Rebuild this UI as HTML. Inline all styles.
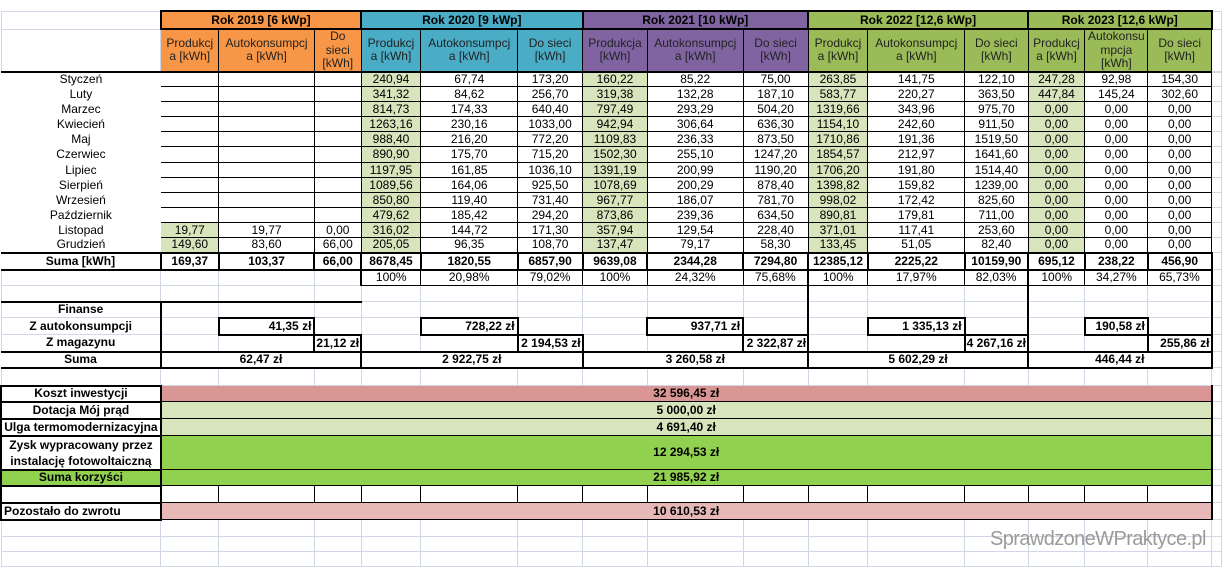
<!DOCTYPE html>
<html><head><meta charset="utf-8">
<style>
html,body{margin:0;padding:0;background:#fff;width:1222px;height:568px;overflow:hidden}
table{position:absolute;left:0;top:10px;border-collapse:collapse;table-layout:fixed;font-family:"Liberation Sans",Arial,sans-serif;font-size:12px;color:#000}
td{border:1px solid #d0d7e5;padding:0 2px;text-align:center;white-space:nowrap;overflow:hidden;line-height:13px}
td.n{border-color:transparent}
.b{border:1px solid #000}
.h{font-weight:bold;border:2px solid #000}
.o{background:#f79646}.bl{background:#4bacc6}.p{background:#8064a2}.g{background:#9bbb59}
.sub td{white-space:normal;color:#222;font-size:12px;line-height:13.5px}
.lg{background:#d8e4bc}
.bt td{border-top:2px solid #000}
.r{text-align:right}
.bold{font-weight:bold}
.mk{background:#da9694}.dt{background:#d8e4bc}.zy{background:#92d050}.po{background:#e6b8b7}
.lab{border:2px solid #000;font-weight:bold}
#wm{position:absolute;left:990px;top:528px;font-family:"Liberation Sans",Arial,sans-serif;font-size:20px;color:#9a9a9a;letter-spacing:-0.6px}
</style></head><body>
<table>
<colgroup>
<col style="width:160px"><col style="width:58px"><col style="width:96px"><col style="width:46px">
<col style="width:60px"><col style="width:97px"><col style="width:65px">
<col style="width:65px"><col style="width:96px"><col style="width:65px">
<col style="width:60px"><col style="width:97px"><col style="width:63px">
<col style="width:57px"><col style="width:63px"><col style="width:64px"><col style="width:10px">
</colgroup>
<tr style="height:18px"><td></td><td colspan="3" class="h o">Rok 2019 [6 kWp]</td><td colspan="3" class="h bl">Rok 2020 [9 kWp]</td><td colspan="3" class="h p">Rok 2021 [10 kWp]</td><td colspan="3" class="h g">Rok 2022 [12,6 kWp]</td><td colspan="3" class="h g">Rok 2023 [12,6 kWp]</td><td></td></tr>
<tr class="sub" style="height:41px"><td></td>
<td class="b o">Produkcj a [kWh]</td><td class="b o">Autokonsumpcj a [kWh]</td><td class="b o">Do sieci [kWh]</td>
<td class="b bl">Produkcj a [kWh]</td><td class="b bl">Autokonsumpcj a [kWh]</td><td class="b bl">Do sieci [kWh]</td>
<td class="b p">Produkcja [kWh]</td><td class="b p">Autokonsumpcj a [kWh]</td><td class="b p">Do sieci [kWh]</td>
<td class="b g">Produkcj a [kWh]</td><td class="b g">Autokonsumpcj a [kWh]</td><td class="b g">Do sieci [kWh]</td>
<td class="b g">Produkcj a [kWh]</td><td class="b g">Autokonsu mpcja [kWh]</td><td class="b g">Do sieci [kWh]</td><td></td></tr>
<tr class="bt" style="height:15px"><td class="n">Styczeń</td><td class="b"></td><td class="b"></td><td class="b"></td><td class="b lg">240,94</td><td class="b">67,74</td><td class="b">173,20</td><td class="b lg">160,22</td><td class="b">85,22</td><td class="b">75,00</td><td class="b lg">263,85</td><td class="b">141,75</td><td class="b">122,10</td><td class="b lg">247,28</td><td class="b">92,98</td><td class="b">154,30</td><td style="border-top-color:#d0d7e5"></td></tr>
<tr style="height:15px"><td class="n">Luty</td><td class="b"></td><td class="b"></td><td class="b"></td><td class="b lg">341,32</td><td class="b">84,62</td><td class="b">256,70</td><td class="b lg">319,38</td><td class="b">132,28</td><td class="b">187,10</td><td class="b lg">583,77</td><td class="b">220,27</td><td class="b">363,50</td><td class="b lg">447,84</td><td class="b">145,24</td><td class="b">302,60</td><td></td></tr>
<tr style="height:15px"><td class="n">Marzec</td><td class="b"></td><td class="b"></td><td class="b"></td><td class="b lg">814,73</td><td class="b">174,33</td><td class="b">640,40</td><td class="b lg">797,49</td><td class="b">293,29</td><td class="b">504,20</td><td class="b lg">1319,66</td><td class="b">343,96</td><td class="b">975,70</td><td class="b lg">0,00</td><td class="b">0,00</td><td class="b">0,00</td><td></td></tr>
<tr style="height:15px"><td class="n">Kwiecień</td><td class="b"></td><td class="b"></td><td class="b"></td><td class="b lg">1263,16</td><td class="b">230,16</td><td class="b">1033,00</td><td class="b lg">942,94</td><td class="b">306,64</td><td class="b">636,30</td><td class="b lg">1154,10</td><td class="b">242,60</td><td class="b">911,50</td><td class="b lg">0,00</td><td class="b">0,00</td><td class="b">0,00</td><td></td></tr>
<tr style="height:15px"><td class="n">Maj</td><td class="b"></td><td class="b"></td><td class="b"></td><td class="b lg">988,40</td><td class="b">216,20</td><td class="b">772,20</td><td class="b lg">1109,83</td><td class="b">236,33</td><td class="b">873,50</td><td class="b lg">1710,86</td><td class="b">191,36</td><td class="b">1519,50</td><td class="b lg">0,00</td><td class="b">0,00</td><td class="b">0,00</td><td></td></tr>
<tr style="height:16px"><td class="n">Czerwiec</td><td class="b"></td><td class="b"></td><td class="b"></td><td class="b lg">890,90</td><td class="b">175,70</td><td class="b">715,20</td><td class="b lg">1502,30</td><td class="b">255,10</td><td class="b">1247,20</td><td class="b lg">1854,57</td><td class="b">212,97</td><td class="b">1641,60</td><td class="b lg">0,00</td><td class="b">0,00</td><td class="b">0,00</td><td></td></tr>
<tr style="height:15px"><td class="n">Lipiec</td><td class="b"></td><td class="b"></td><td class="b"></td><td class="b lg">1197,95</td><td class="b">161,85</td><td class="b">1036,10</td><td class="b lg">1391,19</td><td class="b">200,99</td><td class="b">1190,20</td><td class="b lg">1706,20</td><td class="b">191,80</td><td class="b">1514,40</td><td class="b lg">0,00</td><td class="b">0,00</td><td class="b">0,00</td><td></td></tr>
<tr style="height:15px"><td class="n">Sierpień</td><td class="b"></td><td class="b"></td><td class="b"></td><td class="b lg">1089,56</td><td class="b">164,06</td><td class="b">925,50</td><td class="b lg">1078,69</td><td class="b">200,29</td><td class="b">878,40</td><td class="b lg">1398,82</td><td class="b">159,82</td><td class="b">1239,00</td><td class="b lg">0,00</td><td class="b">0,00</td><td class="b">0,00</td><td></td></tr>
<tr style="height:15px"><td class="n">Wrzesień</td><td class="b"></td><td class="b"></td><td class="b"></td><td class="b lg">850,80</td><td class="b">119,40</td><td class="b">731,40</td><td class="b lg">967,77</td><td class="b">186,07</td><td class="b">781,70</td><td class="b lg">998,02</td><td class="b">172,42</td><td class="b">825,60</td><td class="b lg">0,00</td><td class="b">0,00</td><td class="b">0,00</td><td></td></tr>
<tr style="height:15px"><td class="n">Październik</td><td class="b"></td><td class="b"></td><td class="b"></td><td class="b lg">479,62</td><td class="b">185,42</td><td class="b">294,20</td><td class="b lg">873,86</td><td class="b">239,36</td><td class="b">634,50</td><td class="b lg">890,81</td><td class="b">179,81</td><td class="b">711,00</td><td class="b lg">0,00</td><td class="b">0,00</td><td class="b">0,00</td><td></td></tr>
<tr style="height:15px"><td class="n">Listopad</td><td class="b lg">19,77</td><td class="b">19,77</td><td class="b">0,00</td><td class="b lg">316,02</td><td class="b">144,72</td><td class="b">171,30</td><td class="b lg">357,94</td><td class="b">129,54</td><td class="b">228,40</td><td class="b lg">371,01</td><td class="b">117,41</td><td class="b">253,60</td><td class="b lg">0,00</td><td class="b">0,00</td><td class="b">0,00</td><td></td></tr>
<tr style="height:15px"><td class="n">Grudzień</td><td class="b lg">149,60</td><td class="b">83,60</td><td class="b">66,00</td><td class="b lg">205,05</td><td class="b">96,35</td><td class="b">108,70</td><td class="b lg">137,47</td><td class="b">79,17</td><td class="b">58,30</td><td class="b lg">133,45</td><td class="b">51,05</td><td class="b">82,40</td><td class="b lg">0,00</td><td class="b">0,00</td><td class="b">0,00</td><td></td></tr>
<tr class="bold" style="height:17px"><td class="h" style="border-left:none">Suma [kWh]</td><td class="h">169,37</td><td class="h">103,37</td><td class="h">66,00</td><td class="h">8678,45</td><td class="h">1820,55</td><td class="h">6857,90</td><td class="h">9639,08</td><td class="h">2344,28</td><td class="h">7294,80</td><td class="h">12385,12</td><td class="h">2225,22</td><td class="h">10159,90</td><td class="h">695,12</td><td class="h">238,22</td><td class="h">456,90</td><td></td></tr>
<tr style="height:16px"><td></td><td></td><td></td><td style="border-right:2px solid #000"></td><td class="b">100%</td><td class="b">20,98%</td><td class="b">79,02%</td><td class="b">100%</td><td class="b">24,32%</td><td class="b">75,68%</td><td class="b" style="border-left:2px solid #000">100%</td><td class="b">17,97%</td><td class="b">82,03%</td><td class="b" style="border-left:2px solid #000">100%</td><td class="b">34,27%</td><td class="b" style="border-right:2px solid #000">65,73%</td><td></td></tr>
<tr style="height:16px"><td></td><td></td><td></td><td></td><td></td><td></td><td></td><td></td><td></td><td style="border-right:2px solid #000"></td><td></td><td></td><td style="border-right:2px solid #000"></td><td></td><td></td><td style="border-right:2px solid #000"></td><td></td></tr>
<tr style="height:16px"><td class="bold" style="border-top:2px solid #000;border-right:2px solid #000">Finanse</td><td style="border-top:2px solid #000;border-left:2px solid #000"></td><td style="border-top:2px solid #000"></td><td style="border-top:2px solid #000"></td><td></td><td></td><td></td><td></td><td></td><td style="border-right:2px solid #000"></td><td></td><td></td><td style="border-right:2px solid #000"></td><td></td><td></td><td style="border-right:2px solid #000"></td><td></td></tr>
<tr class="bold" style="height:17px"><td style="border-right:2px solid #000">Z autokonsumpcji</td><td></td><td class="h r">41,35 zł</td><td></td><td></td><td class="h r">728,22 zł</td><td></td><td></td><td class="h r">937,71 zł</td><td style="border-right:2px solid #000"></td><td></td><td class="h r">1 335,13 zł</td><td style="border-right:2px solid #000"></td><td></td><td class="h r">190,58 zł</td><td style="border-right:2px solid #000"></td><td></td></tr>
<tr class="bold" style="height:17px"><td style="border-right:2px solid #000">Z magazynu</td><td></td><td></td><td class="h r" style="padding:0 1px">21,12 zł</td><td></td><td></td><td class="h r" style="padding:0 1px">2 194,53 zł</td><td></td><td></td><td class="h r" style="padding:0 1px">2 322,87 zł</td><td></td><td></td><td class="h r" style="padding:0 1px">4 267,16 zł</td><td></td><td></td><td class="h r" style="padding:0 1px">255,86 zł</td><td></td></tr>
<tr class="bold" style="height:16px"><td class="h" style="border-left:none">Suma</td><td colspan="3" class="h">62,47 zł</td><td colspan="3" class="h">2 922,75 zł</td><td colspan="3" class="h">3 260,58 zł</td><td colspan="3" class="h">5 602,29 zł</td><td colspan="3" class="h">446,44 zł</td><td></td></tr>
<tr style="height:18px"><td></td><td></td><td></td><td></td><td></td><td></td><td></td><td></td><td></td><td></td><td></td><td></td><td></td><td></td><td></td><td></td><td></td></tr>
<tr class="bold" style="height:16px"><td class="lab">Koszt inwestycji</td><td colspan="15" class="b mk" style="border-right:2px solid #000">32 596,45 zł</td><td></td></tr>
<tr class="bold" style="height:17px"><td class="lab">Dotacja Mój prąd</td><td colspan="15" class="b dt" style="border-right:2px solid #000">5 000,00 zł</td><td></td></tr>
<tr class="bold" style="height:17px"><td class="lab" style="padding:0">Ulga termomodernizacyjna</td><td colspan="15" class="b dt" style="border-right:2px solid #000">4 691,40 zł</td><td></td></tr>
<tr class="bold" style="height:34px"><td class="lab" style="white-space:normal;line-height:16px">Zysk wypracowany przez instalację fotowoltaiczną</td><td colspan="15" class="b zy" style="border-right:2px solid #000">12 294,53 zł</td><td></td></tr>
<tr class="bold" style="height:16px"><td class="lab zy">Suma korzyści</td><td colspan="15" class="b zy" style="border-right:2px solid #000">21 985,92 zł</td><td></td></tr>
<tr style="height:17px"><td class="lab"></td><td class="b"></td><td class="b"></td><td class="b"></td><td class="b"></td><td class="b"></td><td class="b"></td><td class="b"></td><td class="b"></td><td class="b"></td><td class="b"></td><td class="b"></td><td class="b"></td><td class="b"></td><td class="b"></td><td class="b" style="border-right:2px solid #000"></td><td></td></tr>
<tr class="bold" style="height:17px"><td class="lab" style="text-align:left">Pozostało do zwrotu</td><td colspan="15" class="b po" style="border-right:2px solid #000">10 610,53 zł</td><td></td></tr>
<tr style="height:17px"><td></td><td></td><td></td><td></td><td></td><td></td><td></td><td></td><td></td><td></td><td></td><td></td><td></td><td></td><td></td><td></td><td></td></tr>
<tr style="height:15px"><td></td><td></td><td></td><td></td><td></td><td></td><td></td><td></td><td></td><td></td><td></td><td></td><td></td><td></td><td></td><td></td><td></td></tr>
<tr style="height:15px"><td></td><td></td><td></td><td></td><td></td><td></td><td></td><td></td><td></td><td></td><td></td><td></td><td></td><td></td><td></td><td></td><td></td></tr>
</table>
<div id="wm">SprawdzoneWPraktyce.pl</div>
</body></html>
